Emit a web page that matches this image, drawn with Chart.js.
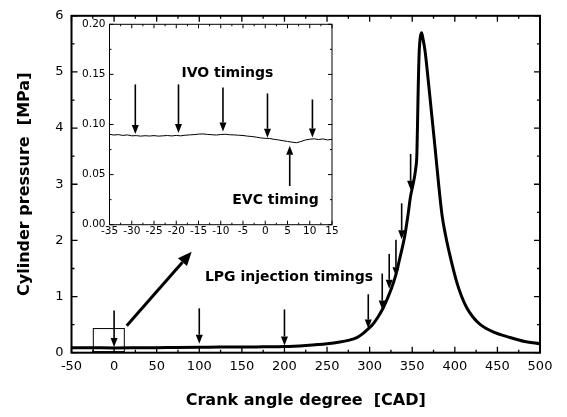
<!DOCTYPE html>
<html>
<head>
<meta charset="utf-8">
<script src="https://cdn.jsdelivr.net/npm/chart.js@4"></script>
<style>
  body { margin: 0; background: #fff; }
  #wrap { position: relative; width: 567px; height: 417px; }
  #main { position: absolute; left: 0; top: 0; }
  #inset { position: absolute; left: 78px; top: 14px; }
</style>
</head>
<body>
<div id="wrap">
  <canvas id="main" width="567" height="417"></canvas>
  <canvas id="inset" width="262" height="226"></canvas>
</div>
<script>
// Hauptkurve: Zylinderdruck über Kurbelwinkel
const crankAngle = [-50, -25, 0, 25, 50, 75, 100, 125, 150, 175, 200, 225, 250, 265, 275, 285, 292, 298, 304, 310,
    316, 321, 326, 331, 336, 341, 345, 348, 351, 354, 355.5, 356.5, 357.3, 358.3, 359.5, 361, 362.5, 365, 369, 373,
    377, 381, 385, 389, 394, 402, 408, 414, 421, 430, 445, 465, 482, 500];
const pressure = [0.09, 0.088, 0.085, 0.087, 0.09, 0.092, 0.095, 0.10, 0.10, 0.105, 0.11, 0.13, 0.16, 0.19, 0.22, 0.27, 0.34, 0.42, 0.51, 0.64,
    0.80, 0.97, 1.16, 1.40, 1.72, 2.06, 2.45, 2.78, 3.0, 3.27, 3.55, 4.3, 4.9, 5.4, 5.62, 5.7, 5.6, 5.38, 4.82, 4.22,
    3.62, 3.0, 2.45, 2.1, 1.75, 1.27, 1.0, 0.80, 0.64, 0.50, 0.37, 0.27, 0.20, 0.16];

// Inset: Ausschnitt -35 ... 15 CAD
const insetAngle = [-35, -34, -33, -32, -31, -30, -29, -28, -27, -26, -25, -24, -23, -22, -21, -20, -19, -18, -17, -16,
    -15, -14, -13, -12, -11, -10, -9, -8, -7, -6, -5, -4, -3, -2, -1, 0, 1, 2, 3, 4, 5, 6, 7, 8, 9, 10, 11, 12, 13, 14, 15];
const insetPressure = [0.0902, 0.0895, 0.0899, 0.0891, 0.0896, 0.0887, 0.0889, 0.0884, 0.0888, 0.0885, 0.0889, 0.0884,
    0.0887, 0.0890, 0.0886, 0.0891, 0.0887, 0.0893, 0.0896, 0.0899, 0.0904, 0.0906, 0.0901, 0.0898, 0.0895, 0.0900,
    0.0903, 0.0898, 0.0896, 0.0893, 0.0890, 0.0884, 0.0880, 0.0874, 0.0866, 0.0862, 0.0860, 0.0852, 0.0846, 0.0838,
    0.0831, 0.0824, 0.0818, 0.0830, 0.0845, 0.0853, 0.0857, 0.0850, 0.0856, 0.0846, 0.0852];

// Pfeile "LPG injection timings" (Kurbelwinkel, Anfang oben, Spitze unten)
const lpgX = [0, 100, 200, 298.4, 314.8, 323, 330.9, 337.6, 348.1];
const lpgTop = [0.75, 0.79, 0.77, 1.04, 1.41, 1.76, 2.01, 2.66, 3.54];
const lpgTip = [0.10, 0.16, 0.13, 0.43, 0.77, 1.14, 1.36, 2.02, 2.90];

// Pfeile im Inset
const ivoX = [-29.2, -19.5, -9.5, 0.5, 10.6];
const ivoTop = [0.140, 0.140, 0.137, 0.131, 0.125];
const ivoTip = [0.0905, 0.0915, 0.093, 0.0868, 0.087];
const evcX = 5.5, evcTail = 0.0386, evcTip = 0.0788;

// Zoom-Rechteck und großer Pfeil im Hauptdiagramm
const zoomBox = { x0: -24.4, x1: 12, y0: 0.02, y1: 0.43 };
const bigArrow = { x0: 14.8, y0: 0.48, x1: 91.1, y1: 1.80 };

const FONT = "'DejaVu Sans', Verdana, sans-serif";

function arrow(ctx, x0, y0, x1, y1, width, headLen, headHalf) {
    const ang = Math.atan2(y1 - y0, x1 - x0);
    const bx = x1 - headLen * Math.cos(ang), by = y1 - headLen * Math.sin(ang);
    ctx.lineWidth = width;
    ctx.beginPath();
    ctx.moveTo(x0, y0);
    ctx.lineTo(bx, by);
    ctx.stroke();
    ctx.beginPath();
    ctx.moveTo(x1, y1);
    ctx.lineTo(bx + headHalf * Math.sin(ang), by - headHalf * Math.cos(ang));
    ctx.lineTo(bx - headHalf * Math.sin(ang), by + headHalf * Math.cos(ang));
    ctx.closePath();
    ctx.fill();
}

// Rahmen mit nach innen zeigenden Ticks auf allen vier Seiten
const framePlugin = {
    id: 'frame',
    afterDraw(chart, args, o) {
        const { ctx, chartArea: a, scales: { x, y } } = chart;
        ctx.save();
        ctx.strokeStyle = '#000';
        ctx.lineWidth = o.width;
        ctx.strokeRect(a.left, a.top, a.right - a.left, a.bottom - a.top);
        ctx.lineWidth = o.tickWidth;
        ctx.beginPath();
        const nx = Math.round((x.max - x.min) / o.xMinor);
        for (let i = 0; i <= nx; i++) {
            const px = x.getPixelForValue(x.min + i * o.xMinor);
            const len = (i % 2 === 0) ? o.major : o.minor;
            ctx.moveTo(px, a.bottom); ctx.lineTo(px, a.bottom - len);
            ctx.moveTo(px, a.top); ctx.lineTo(px, a.top + len);
        }
        const ny = Math.round((y.max - y.min) / o.yMinor);
        for (let i = 0; i <= ny; i++) {
            const py = y.getPixelForValue(y.min + i * o.yMinor);
            const len = (i % 2 === 0) ? o.major : o.minor;
            ctx.moveTo(a.left, py); ctx.lineTo(a.left + len, py);
            ctx.moveTo(a.right, py); ctx.lineTo(a.right - len, py);
        }
        ctx.stroke();
        ctx.restore();
    }
};

const mainMarks = {
    id: 'mainMarks',
    afterDatasetsDraw(chart) {
        const { ctx, scales: { x, y } } = chart;
        ctx.save();
        ctx.strokeStyle = '#000';
        ctx.fillStyle = '#000';
        lpgX.forEach((v, i) => {
            const px = x.getPixelForValue(v);
            arrow(ctx, px, y.getPixelForValue(lpgTop[i]), px, y.getPixelForValue(lpgTip[i]), 1.6, 9, 3.5);
        });
        ctx.lineWidth = 1;
        const bx0 = x.getPixelForValue(zoomBox.x0), bx1 = x.getPixelForValue(zoomBox.x1);
        const by0 = y.getPixelForValue(zoomBox.y0), by1 = y.getPixelForValue(zoomBox.y1);
        ctx.strokeRect(bx0, by1, bx1 - bx0, by0 - by1);
        arrow(ctx, x.getPixelForValue(bigArrow.x0), y.getPixelForValue(bigArrow.y0),
            x.getPixelForValue(bigArrow.x1), y.getPixelForValue(bigArrow.y1), 3, 14, 6);
        ctx.font = 'bold 14px ' + FONT;
        ctx.textAlign = 'center';
        ctx.textBaseline = 'middle';
        ctx.fillText('LPG injection timings', x.getPixelForValue(205.3), y.getPixelForValue(1.34));
        ctx.restore();
    }
};

const insetMarks = {
    id: 'insetMarks',
    afterDatasetsDraw(chart) {
        const { ctx, scales: { x, y } } = chart;
        ctx.save();
        ctx.strokeStyle = '#000';
        ctx.fillStyle = '#000';
        ivoX.forEach((v, i) => {
            const px = x.getPixelForValue(v);
            arrow(ctx, px, y.getPixelForValue(ivoTop[i]), px, y.getPixelForValue(ivoTip[i]), 1.6, 9, 3.5);
        });
        const ex = x.getPixelForValue(evcX);
        arrow(ctx, ex, y.getPixelForValue(evcTail), ex, y.getPixelForValue(evcTip), 1.6, 9, 3.5);
        ctx.font = 'bold 14px ' + FONT;
        ctx.textAlign = 'center';
        ctx.textBaseline = 'middle';
        ctx.fillText('IVO timings', x.getPixelForValue(-8.5), y.getPixelForValue(0.151));
        ctx.fillText('EVC timing', x.getPixelForValue(2.3), y.getPixelForValue(0.024));
        ctx.restore();
    }
};

new Chart(document.getElementById('main'), {
    type: 'line',
    data: {
        datasets: [{
            data: crankAngle.map((a, i) => ({ x: a, y: pressure[i] })),
            borderColor: '#000',
            borderWidth: 3,
            pointRadius: 0,
            cubicInterpolationMode: 'monotone',
            fill: false
        }]
    },
    options: {
        responsive: false,
        animation: false,
        layout: { padding: { left: 0, right: 27, top: 9, bottom: 0 } },
        plugins: {
            legend: { display: false },
            tooltip: { enabled: false },
            frame: { width: 2, tickWidth: 1.3, major: 6, minor: 3, xMinor: 25, yMinor: 0.5 }
        },
        scales: {
            x: {
                type: 'linear', min: -50, max: 500,
                ticks: { stepSize: 50, color: '#000', font: { family: FONT, size: 13 }, padding: 6, maxRotation: 0, autoSkip: false },
                grid: { display: false, drawTicks: false },
                border: { display: false },
                title: { display: true, text: 'Crank angle degree  [CAD]', color: '#000',
                    font: { family: FONT, size: 16, weight: 'bold' }, padding: { top: 0, bottom: 7 } },
                afterFit(s) { s.height = 64.3; }
            },
            y: {
                min: 0, max: 6,
                ticks: { stepSize: 1, color: '#000', font: { family: FONT, size: 13 }, padding: 8 },
                grid: { display: false, drawTicks: false },
                border: { display: false },
                title: { display: true, text: 'Cylinder pressure  [MPa]', color: '#000',
                    font: { family: FONT, size: 16, weight: 'bold' }, padding: { top: 15, bottom: 0 } },
                afterFit(s) { s.width = 71.5; }
            }
        }
    },
    plugins: [framePlugin, mainMarks]
});

new Chart(document.getElementById('inset'), {
    type: 'line',
    data: {
        datasets: [{
            data: insetAngle.map((a, i) => ({ x: a, y: insetPressure[i] })),
            borderColor: '#000',
            borderWidth: 1,
            pointRadius: 0,
            tension: 0,
            fill: false
        }]
    },
    options: {
        responsive: false,
        animation: false,
        layout: { padding: { left: 0, right: 8, top: 5.5, bottom: 0 } },
        plugins: {
            legend: { display: false },
            tooltip: { enabled: false },
            frame: { width: 1, tickWidth: 1, major: 4, minor: 2, xMinor: 2.5, yMinor: 0.025 }
        },
        scales: {
            x: {
                type: 'linear', min: -35, max: 15,
                ticks: { stepSize: 5, color: '#000', font: { family: FONT, size: 10.5 }, padding: 0, maxRotation: 0, autoSkip: false },
                grid: { display: false, drawTicks: false },
                border: { display: false },
                afterFit(s) { s.height = 15.3; }
            },
            y: {
                min: 0, max: 0.2,
                ticks: { stepSize: 0.05, color: '#000', font: { family: FONT, size: 10.5 }, padding: 4,
                    callback: v => v.toFixed(2) },
                grid: { display: false, drawTicks: false },
                border: { display: false },
                afterFit(s) { s.width = 31.5; }
            }
        }
    },
    plugins: [framePlugin, insetMarks]
});
</script>
</body>
</html>
